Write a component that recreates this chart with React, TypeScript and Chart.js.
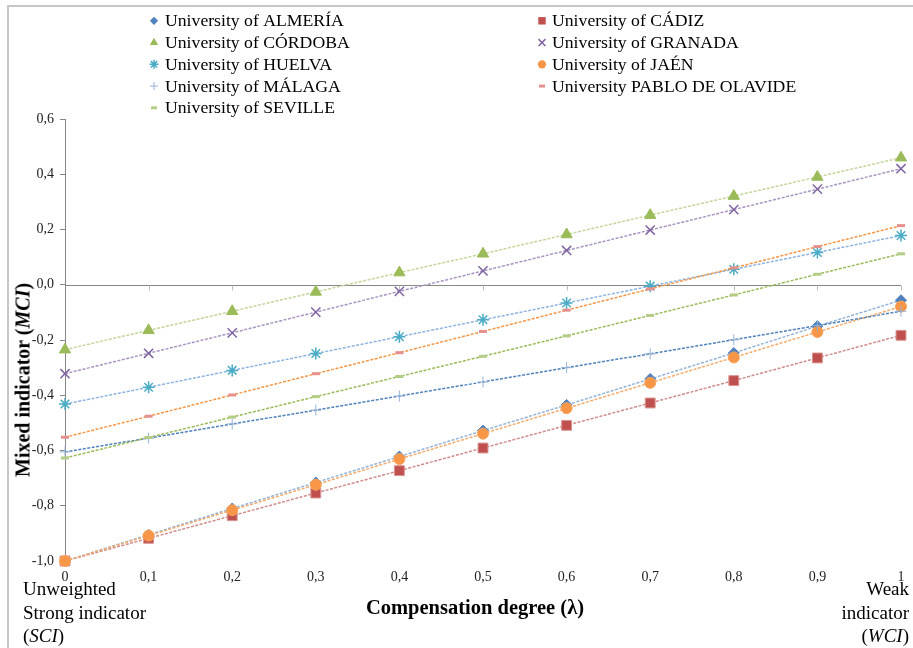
import React, { useEffect, useRef } from 'react';
import { Chart, registerables } from 'chart.js';
import { drawPoint } from 'chart.js/helpers';

Chart.register(...registerables);

const lambda = [0, 0.1, 0.2, 0.3, 0.4, 0.5, 0.6, 0.7, 0.8, 0.9, 1];

const almeria = [-1.0, -0.905, -0.81, -0.716, -0.622, -0.528, -0.435, -0.341, -0.247, -0.15, -0.056];
const cadiz = [-1.0, -0.918, -0.836, -0.754, -0.673, -0.591, -0.509, -0.428, -0.347, -0.265, -0.183];
const cordoba = [-0.235, -0.165, -0.096, -0.026, 0.044, 0.112, 0.182, 0.252, 0.321, 0.39, 0.46];
const granada = [-0.322, -0.248, -0.174, -0.099, -0.024, 0.05, 0.124, 0.198, 0.272, 0.346, 0.42];
const huelva = [-0.432, -0.371, -0.31, -0.249, -0.188, -0.127, -0.066, -0.005, 0.056, 0.117, 0.178];
const jaen = [-1.0, -0.908, -0.816, -0.724, -0.631, -0.539, -0.447, -0.355, -0.263, -0.171, -0.079];
const malaga = [-0.605, -0.555, -0.504, -0.454, -0.403, -0.352, -0.3, -0.25, -0.199, -0.148, -0.096];
const olavide = [-0.552, -0.476, -0.399, -0.322, -0.246, -0.169, -0.092, -0.015, 0.061, 0.138, 0.214];
const sevilla = [-0.627, -0.553, -0.479, -0.405, -0.332, -0.259, -0.185, -0.111, -0.037, 0.038, 0.112];

const seriesNames = [
  'University of ALMERÍA',
  'University of CÁDIZ',
  'University of CÓRDOBA',
  'University of GRANADA',
  'University of HUELVA',
  'University of JAÉN',
  'University of MÁLAGA',
  'University PABLO DE OLAVIDE',
  'University of SEVILLE',
];
const seriesValues = [almeria, cadiz, cordoba, granada, huelva, jaen, malaga, olavide, sevilla];

const markerStyles = ['rectRot', 'rect', 'triangle', 'crossRot', 'star', 'circle', 'cross', 'line', 'line'];
const markerRadius = [5.5, 7, 6.5, 6.5, 6, 5.5, 5.5, 4, 4];
const markerFill = ['#4F81BD', '#C0504D', '#9BBB59', '#8064A2', '#4BACC6', '#F79646', '#95B3D7', '#E6908E', '#B3CC86'];
const markerStroke = ['#4F81BD', '#D99694', '#9BBB59', '#8064A2', '#4BACC6', '#F7A35C', '#95B3D7', '#E6908E', '#B3CC86'];
const markerBorderWidth = [1, 1, 1, 1.5, 1.5, 1, 1, 3, 3];
const lineColors = ['#95B3D7', '#D08C8A', '#C3D69B', '#A895C2', '#8DB4E2', '#F6AB6C', '#4F81BD', '#F79646', '#9BBB59'];

const yTickFormat = (v: number) => v.toFixed(1).replace('.', ',');
const xTickFormat = (v: number) => {
  const r = Math.round(v * 10) / 10;
  if (r === 0) return '0';
  if (r === 1) return '1';
  return r.toFixed(1).replace('.', ',');
};

const FONT = '"Liberation Serif", "Times New Roman", serif';

const zeroAxisPlugin = {
  id: 'zeroAxis',
  beforeDatasetsDraw(chart: any) {
    const { ctx, chartArea, scales } = chart;
    const y0 = Math.round(scales.y.getPixelForValue(0)) + 0.5;
    ctx.save();
    ctx.strokeStyle = '#868686';
    ctx.lineWidth = 1;
    ctx.beginPath();
    ctx.moveTo(chartArea.left, y0);
    ctx.lineTo(chartArea.right, y0);
    ctx.stroke();
    ctx.strokeStyle = '#BDBDBD';
    scales.x.ticks.forEach((t: any) => {
      if (Math.abs(t.value) < 1e-6) return;
      const x = Math.round(scales.x.getPixelForValue(t.value)) + 0.5;
      ctx.beginPath();
      ctx.moveTo(x, y0);
      ctx.lineTo(x, y0 + 5);
      ctx.stroke();
    });
    ctx.restore();
  },
};

const legendPlugin = {
  id: 'customLegend',
  afterDraw(chart: any) {
    const ctx = chart.ctx;
    ctx.save();
    ctx.font = '17.7px ' + FONT;
    ctx.textBaseline = 'alphabetic';
    ctx.textAlign = 'left';
    seriesNames.forEach((name, i) => {
      const col = i % 2;
      const row = Math.floor(i / 2);
      const mx = col ? 542 : 154;
      const tx = col ? 552 : 165;
      const by = 26.3 + row * 21.75;
      ctx.fillStyle = markerFill[i];
      ctx.strokeStyle = markerStroke[i];
      ctx.lineWidth = markerBorderWidth[i];
      const isLine = ['crossRot', 'star', 'cross', 'line'].includes(markerStyles[i]);
      drawPoint(ctx, {
        pointStyle: markerStyles[i],
        radius: markerRadius[i] * 0.75,
        borderWidth: isLine ? markerBorderWidth[i] : 0,
        rotation: 0,
      } as any, mx, by - 5.5);
      ctx.fillStyle = '#000';
      ctx.fillText(name, tx, by);
    });
    ctx.restore();
  },
};

export default function App() {
  const canvasRef = useRef<HTMLCanvasElement | null>(null);

  useEffect(() => {
    if (!canvasRef.current) return;
    const datasets = seriesNames.map((name, i) => ({
      label: name,
      data: lambda.map((x, j) => ({ x, y: seriesValues[i][j] })),
      showLine: true,
      borderColor: lineColors[i],
      borderWidth: 1.5,
      borderDash: [3, 1.5],
      backgroundColor: markerFill[i],
      pointStyle: markerStyles[i],
      pointRadius: markerRadius[i],
      pointBackgroundColor: markerFill[i],
      pointBorderColor: markerStroke[i],
      pointBorderWidth: markerBorderWidth[i],
      pointHoverRadius: markerRadius[i],
      order: -i,
      clip: false as any,
      fill: false,
    }));

    const chart = new Chart(canvasRef.current, {
      type: 'scatter',
      data: { datasets },
      options: {
        animation: false,
        responsive: false,
        devicePixelRatio: 1,
        events: [],
        layout: { padding: { left: 0, right: 12, top: 119, bottom: 0 } },
        plugins: { legend: { display: false }, tooltip: { enabled: false } },
        scales: {
          x: {
            type: 'linear',
            min: 0,
            max: 1,
            ticks: {
              stepSize: 0.1,
              autoSkip: false,
              maxRotation: 0,
              padding: 0,
              color: '#222',
              font: { family: FONT, size: 14 },
              callback: (v: any) => xTickFormat(Number(v)),
            },
            grid: { display: false },
            border: { display: false },
            afterFit: (s: any) => { s.height = 87; },
          },
          y: {
            type: 'linear',
            min: -1,
            max: 0.6,
            ticks: {
              stepSize: 0.2,
              padding: 6,
              color: '#222',
              font: { family: FONT, size: 14 },
              callback: (v: any) => yTickFormat(Number(v)),
            },
            grid: { drawOnChartArea: false, tickLength: 5, color: '#868686' },
            border: { color: '#868686' },
            afterFit: (s: any) => { s.width = 65; },
          },
        },
      } as any,
      plugins: [zeroAxisPlugin, legendPlugin],
    });
    return () => chart.destroy();
  }, []);

  const textBase: React.CSSProperties = {
    position: 'absolute',
    fontFamily: FONT,
    color: '#000',
    whiteSpace: 'nowrap',
  };

  return (
    <div style={{ position: 'absolute', left: 0, top: 0, width: 913, height: 648, overflow: 'hidden', background: '#fff' }}>
      <div style={{ position: 'absolute', left: 7, top: 5, width: 940, height: 700, borderLeft: '2px solid #C6C6C6', borderTop: '2px solid #C6C6C6' }} />
      <canvas ref={canvasRef} width={913} height={648} style={{ position: 'absolute', left: 0, top: 0 }} />
      <div style={{ ...textBase, left: 23, top: 380, fontSize: 20, fontWeight: 'bold', transform: 'translate(-50%, -50%) rotate(-90deg)' }}>
        Mixed indicator (<i>MCI</i>)
      </div>
      <div style={{ ...textBase, left: 475, top: 607, fontSize: 20.5, fontWeight: 'bold', transform: 'translate(-50%, -50%)' }}>
        Compensation degree (λ)
      </div>
      <div style={{ ...textBase, left: 23, top: 577, fontSize: 19, lineHeight: '23.5px', textAlign: 'left' }}>
        Unweighted<br />Strong indicator<br />(<i>SCI</i>)
      </div>
      <div style={{ ...textBase, right: 4, top: 577, fontSize: 19, lineHeight: '23.5px', textAlign: 'right' }}>
        Weak<br />indicator<br />(<i>WCI</i>)
      </div>
    </div>
  );
}
